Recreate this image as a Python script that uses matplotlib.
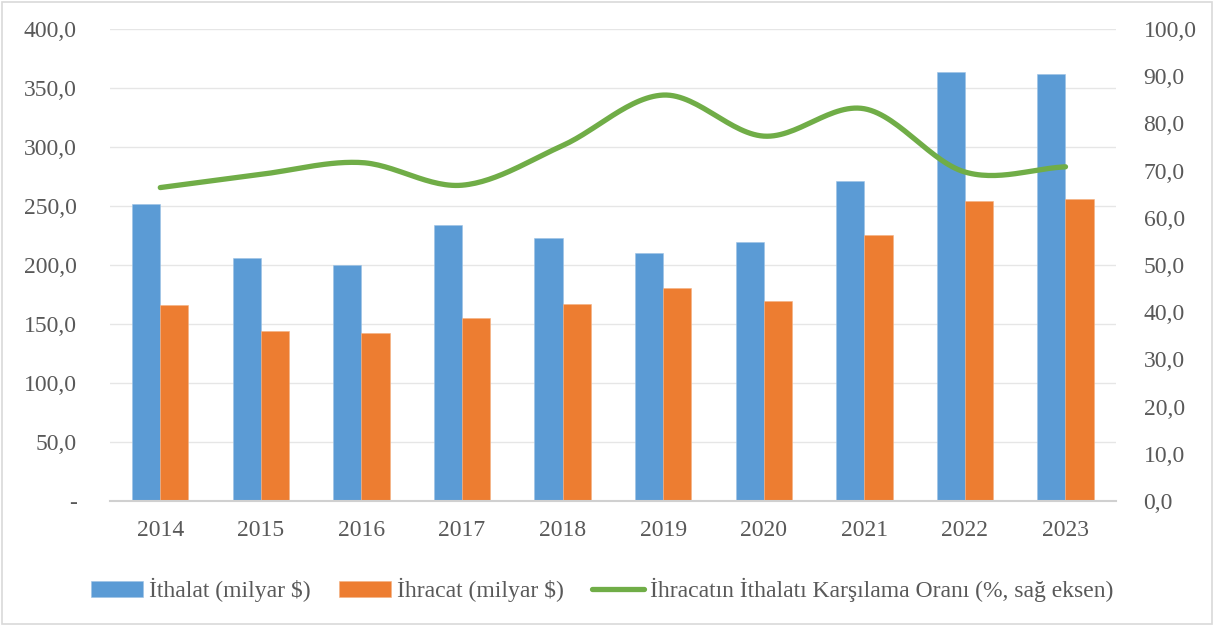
import numpy as np
import matplotlib
matplotlib.use("Agg")
import matplotlib.pyplot as plt
from matplotlib.patches import Rectangle

years = ["2014", "2015", "2016", "2017", "2018", "2019", "2020", "2021", "2022", "2023"]
ithalat = [251.4, 206.0, 199.6, 234.0, 222.5, 210.3, 219.5, 271.4, 363.7, 361.8]
ihracat = [166.5, 143.8, 142.5, 155.0, 167.0, 180.8, 169.6, 225.2, 254.2, 255.8]
oran = [66.4, 69.2, 71.7, 66.9, 75.3, 86.0, 77.3, 83.1, 69.7, 70.8]

left_ticks = [0, 50, 100, 150, 200, 250, 300, 350, 400]
left_labels = ["-", "50,0", "100,0", "150,0", "200,0", "250,0", "300,0", "350,0", "400,0"]
right_ticks = [0, 10, 20, 30, 40, 50, 60, 70, 80, 90, 100]
right_labels = ["0,0", "10,0", "20,0", "30,0", "40,0", "50,0", "60,0", "70,0", "80,0", "90,0", "100,0"]

BLUE = "#5B9BD5"
ORANGE = "#ED7D31"
GREEN = "#70AD47"
TXT = "#595959"
FS = 17

plt.rcParams["font.family"] = ["Liberation Serif", "DejaVu Serif"]

fig = plt.figure(figsize=(12.14, 6.26), dpi=100)
fig.patches.append(Rectangle((0.002, 0.003), 0.996, 0.994, transform=fig.transFigure,
                             fill=False, edgecolor="#d9d9d9", linewidth=1.2))
ax = fig.add_axes([0.0906, 0.1997, 0.8285, 0.754])
ax2 = ax.twinx()

x = np.arange(len(years))
w = 0.28
ax.bar(x - w / 2, ithalat, w, color=BLUE, edgecolor="#9cc2e5", linewidth=0.4, zorder=2,
       label="İthalat (milyar $)")
ax.bar(x + w / 2, ihracat, w, color=ORANGE, edgecolor="#f4b183", linewidth=0.4, zorder=2,
       label="İhracat (milyar $)")

ax.set_xlim(-0.5, len(years) - 0.5)
ax.set_ylim(0, 400)
ax.set_yticks(left_ticks)
ax.set_yticklabels(left_labels)
ax.set_xticks(x)
ax.set_xticklabels(years)
ax.grid(axis="y", color="#e6e6e6", linewidth=1.0, zorder=0)
ax.set_axisbelow(True)
for s in ["top", "right", "left"]:
    ax.spines[s].set_visible(False)
ax.spines["bottom"].set_color("#d0d0d0")
ax.spines["bottom"].set_linewidth(1.5)
ax.tick_params(axis="y", length=0, pad=24, labelsize=FS, labelcolor=TXT)
ax.tick_params(axis="x", length=0, pad=14, labelsize=FS, labelcolor=TXT)


def catmull_rom(xs, ys, n=30):
    xs = np.asarray(xs, float)
    ys = np.asarray(ys, float)
    px = np.concatenate([[2 * xs[0] - xs[1]], xs, [2 * xs[-1] - xs[-2]]])
    py = np.concatenate([[2 * ys[0] - ys[1]], ys, [2 * ys[-1] - ys[-2]]])
    outx, outy = [], []
    t = np.linspace(0, 1, n, endpoint=False)
    for i in range(1, len(px) - 2):
        p0, p1, p2, p3 = py[i - 1], py[i], py[i + 1], py[i + 2]
        q0, q1, q2, q3 = px[i - 1], px[i], px[i + 1], px[i + 2]
        for arr, a0, a1, a2, a3 in ((outx, q0, q1, q2, q3), (outy, p0, p1, p2, p3)):
            arr.extend(0.5 * ((2 * a1) + (-a0 + a2) * t + (2 * a0 - 5 * a1 + 4 * a2 - a3) * t ** 2
                              + (-a0 + 3 * a1 - 3 * a2 + a3) * t ** 3))
    outx.append(xs[-1])
    outy.append(ys[-1])
    return np.array(outx), np.array(outy)


sx, sy = catmull_rom(x, oran)
ax2.plot(sx, sy, color=GREEN, linewidth=3.8, solid_capstyle="round", zorder=3,
         label="İhracatın İthalatı Karşılama Oranı (%, sağ eksen)")
ax2.set_ylim(0, 100)
ax2.set_yticks(right_ticks)
ax2.set_yticklabels(right_labels)
for s in ["top", "right", "left", "bottom"]:
    ax2.spines[s].set_visible(False)
ax2.tick_params(axis="y", length=0, pad=20, labelsize=FS, labelcolor=TXT)

h1, l1 = ax.get_legend_handles_labels()
h2, l2 = ax2.get_legend_handles_labels()
leg = fig.legend(h1 + h2, l1 + l2, loc="center", bbox_to_anchor=(0.496, 0.057), ncol=3,
                 frameon=False, fontsize=FS, handlelength=2.2, handleheight=0.7,
                 handletextpad=0.25, columnspacing=1.2)
for t in leg.get_texts():
    t.set_color(TXT)

fig.savefig("out.png", dpi=100)
